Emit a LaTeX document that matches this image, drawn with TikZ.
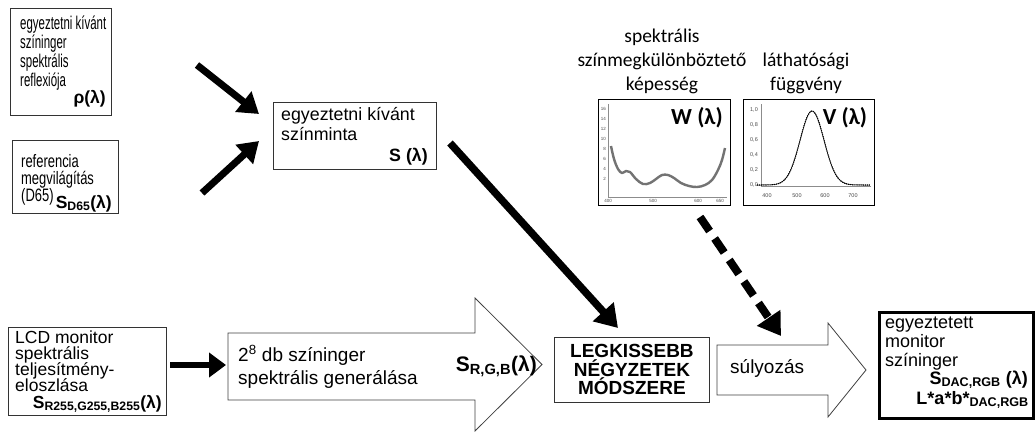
\documentclass[tikz,border=0pt]{standalone}
\usepackage{fontspec}
\setmainfont{Liberation Sans}
\newfontfamily\calib{Carlito}
\newfontfamily\narrowA[FakeStretch=0.62]{Liberation Sans}
\newfontfamily\narrowB[FakeStretch=0.72]{Liberation Sans}
\usetikzlibrary{arrows.meta,calc}
\newcommand\FontA{\narrowA\fontsize{18.5}{19}\selectfont}
\newcommand\FontB{\narrowB\fontsize{18}{19}\selectfont}
\newcommand\FontN{\fontsize{17.8}{20}\selectfont}
\newcommand\FontL{\fontsize{17.5}{19}\selectfont}
\newcommand\FontG{\fontsize{19}{22}\selectfont}
\newcommand\FontC{\calib\fontsize{19.5}{24}\selectfont}
\begin{document}
\begin{tikzpicture}[x=1pt,y=-1pt,
  box/.style={draw=black!80, line width=0.9pt, anchor=north west, inner sep=0pt, fill=white},
  ln/.style={anchor=base west, inner sep=0pt},
  lnr/.style={anchor=base east, inner sep=0pt},
  heavy/.style={line width=7pt, -{Triangle[length=20pt,width=25pt]}},
  hollow/.style={draw=black!75, line width=0.8pt, fill=white},
  tickl/.style={font=\fontsize{4.5}{5}\selectfont, text=black!70, inner sep=0pt},
  lab/.style={font=\FontC, align=center, inner sep=0pt},
  glab/.style={font=\calib\fontsize{23}{26}\selectfont\bfseries, inner sep=0pt},
]
\useasboundingbox (0,0) rectangle (1036,432);

% ---- box 1
\node[box, minimum width=101pt, minimum height=107pt] (b1) at (10,8) {};
\node[ln, font=\FontA] (b1a) at (20,29) {egyeztetni kívánt};
\node[ln, font=\FontA] (b1b) at (20,48) {színinger};
\node[ln, font=\FontA] (b1c) at (20,67) {spektrális};
\node[ln, font=\FontA] (b1d) at (20,86) {reflexiója};
\node[lnr, font=\FontL\bfseries] (b1s) at (106,103) {ρ(λ)};

% ---- box 2
\node[box, minimum width=106pt, minimum height=73pt] (b2) at (12,140) {};
\node[ln, font=\FontB] (b2a) at (21,167) {referencia};
\node[ln, font=\FontB] (b2b) at (21,184) {megvilágítás};
\node[ln, font=\FontB] (b2c) at (21,201) {(D65)};
\node[lnr, font=\FontL\bfseries] (b2s) at (112,208) {S\textsubscript{D65}(λ)};

% ---- box 3
\node[box, minimum width=163pt, minimum height=67pt] (b3) at (273,102) {};
\node[ln, font=\FontN] (b3a) at (281,120) {egyeztetni kívánt};
\node[ln, font=\FontN] (b3b) at (281,140) {színminta};
\node[lnr, font=\FontN\bfseries] (b3s) at (428,161) {S (λ)};

% ---- arrows into box 3
\coordinate (a1s) at (197,65);
\coordinate (a1e) at (259,114);
\coordinate (a2s) at (202,193);
\coordinate (a2e) at (259,141);
\draw[heavy] (a1s) -- (a1e);
\draw[heavy] (a2s) -- (a2e);

% ---- LCD box
\node[box, minimum width=158pt, minimum height=88pt] (b4) at (8,327) {};
\node[ln, font=\FontL] (b4a) at (15,343) {LCD monitor};
\node[ln, font=\FontL] (b4b) at (15,359) {spektrális};
\node[ln, font=\FontL] (b4c) at (15,375) {teljesítmény-};
\node[ln, font=\FontL] (b4d) at (15,391) {eloszlása};
\node[lnr, font=\FontL\bfseries] (b4s) at (162,408) {S\textsubscript{R255,G255,B255}(λ)};

% ---- generation arrow
\draw[hollow] (228,333) -- (475,333) -- (475,298) -- (542,364.5) -- (475,431) -- (475,400) -- (228,400) -- cycle;
\node[ln, font=\FontG] (g1) at (238,361) {2\textsuperscript{8} db színinger};
\node[ln, font=\FontG] (g2) at (238,384) {spektrális generálása};
\node[lnr, font=\fontsize{21}{22}\selectfont\bfseries] (gs) at (537,371) {S\textsubscript{R,G,B}(λ)};
\coordinate (a3s) at (170,365);
\coordinate (a3e) at (226,365);
\draw[line width=6pt, -{Triangle[length=17pt,width=24pt]}] (a3s) -- (a3e);

% ---- least squares box
\node[box, minimum width=155pt, minimum height=65pt] (ls) at (554,337) {};
\node[font=\fontsize{19}{18.5}\selectfont\bfseries, align=center, inner sep=0pt] (lst) at (ls.center) {LEGKISSEBB\\NÉGYZETEK\\MÓDSZERE};

% ---- weighting arrow
\draw[hollow] (717,345) -- (828,345) -- (828,323) -- (866,370) -- (828,417) -- (828,395) -- (717,395) -- cycle;
\node[ln, font=\FontG] (sw) at (730,373) {súlyozás};

% ---- result box
\node[draw, line width=3pt, anchor=north west, inner sep=0pt, minimum width=154pt, minimum height=106pt] (rb) at (878,311) {};
\node[ln, font=\fontsize{18}{19}\selectfont] (r1) at (885,328) {egyeztetett};
\node[ln, font=\fontsize{18}{19}\selectfont] (r2) at (885,347) {monitor};
\node[ln, font=\fontsize{18}{19}\selectfont] (r3) at (885,366) {színinger};
\node[lnr, font=\fontsize{18}{19}\selectfont\bfseries] (r4) at (1028,384) {S\textsubscript{DAC,RGB} (λ)};
\node[lnr, font=\fontsize{18}{19}\selectfont\bfseries] (r5) at (1029,404) {L*a*b*\textsubscript{DAC,RGB}};

% ---- long arrow
\coordinate (a4s) at (450,143);
\coordinate (a4e) at (618,328);
\draw[line width=7.5pt, -{Triangle[length=22pt,width=27pt]}] (a4s) -- (a4e);

% ---- dashed arrow
\coordinate (a5s) at (700,217);
\coordinate (a5e) at (781,336);
\draw[line width=8pt, dash pattern=on 17pt off 9pt, -{Triangle[length=22pt,width=27pt]}] (a5s) -- (a5e);

% ---- labels above graphs
\node[lab] (lw) at (662,61) {spektrális\\színmegkülönböztető\\képesség};
\node[lab] (lv) at (806,73) {láthatósági\\függvény};

% ---- W graph
\node[box, draw=black, line width=1.2pt, minimum width=132pt, minimum height=106pt] (wb) at (598,99) {};
\draw[black!45, line width=0.5pt] (608,104) -- (608,197) -- (727,197);
\foreach \v/\yy in {16/109,14/119,12/129,10/139,8/149,6/159,4/169,2/179}
  \node[tickl, anchor=east] at (606,\yy) {\v};
\foreach \l/\xx in {400/608,500/653,600/698,650/720}
  \node[tickl] at (\xx,201) {\l};
\draw[black!55, line width=2.4pt, line join=round] plot[smooth, tension=0.6] coordinates {
 (611,146) (614,159) (618,169) (622,173) (626,171) (630,172) (636,179) (643,184) (650,183)
 (656,179) (662,175) (668,175) (674,178) (681,183) (689,186) (697,187) (705,185) (712,180)
 (718,170) (722,160) (725,148)};
\node[glab] (wl) at (697,118) {W (λ)};

% ---- V graph
\node[box, draw=black, line width=1.2pt, minimum width=131pt, minimum height=106pt] (vb) at (743,99) {};
\draw[black!45, line width=0.5pt] (761,104) -- (761,186) -- (871,186);
\foreach \v/\yy in {1{,}0/110,0{,}8/125,0{,}6/140,0{,}4/155,0{,}2/170,0{,}0/185}
  \node[tickl, anchor=east, font=\fontsize{5.5}{6}\selectfont] at (758,\yy) {\v};
\foreach \l/\xx in {400/767,500/797,600/825,700/853}
  \node[tickl, font=\fontsize{5.5}{6}\selectfont] at (\xx,196) {\l};
\draw[black, line width=1.1pt, densely dotted] plot[domain=365:760, samples=90] ({767+(\x-400)*0.286}, {185-74*exp(-285.4*(\x/1000-0.5575)*(\x/1000-0.5575))});
\draw[black, line width=0.5pt] plot[domain=365:760, samples=90] ({767+(\x-400)*0.286}, {185-74*exp(-285.4*(\x/1000-0.5575)*(\x/1000-0.5575))});
\node[glab] (vl) at (845,118) {V (λ)};
\end{tikzpicture}
\end{document}
